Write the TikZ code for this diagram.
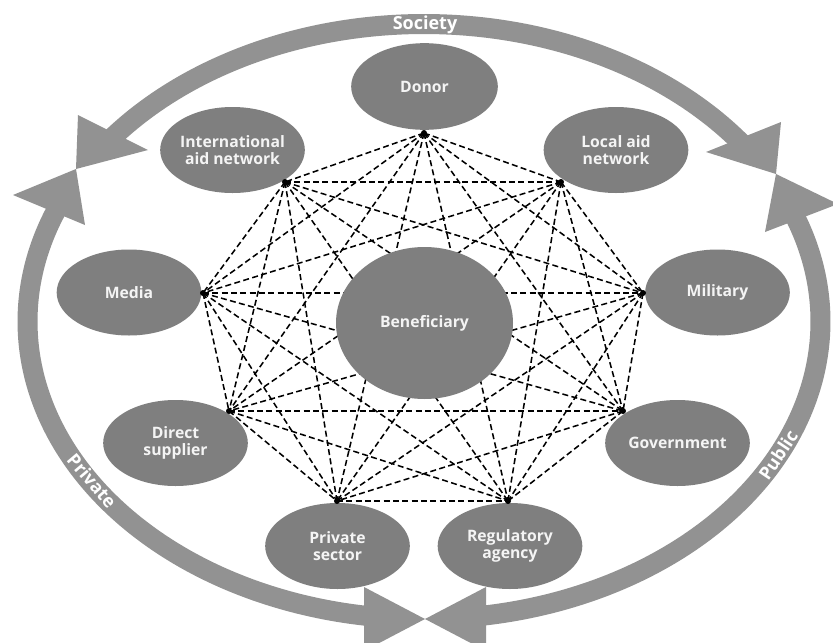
\documentclass[tikz,border=0pt]{standalone}
\usepackage{fontspec}
\setmainfont{Open Sans}
\usetikzlibrary{shapes.geometric}
\definecolor{ellcol}{RGB}{127,127,127}
\definecolor{bandcol}{RGB}{146,146,146}
\definecolor{txtcol}{RGB}{244,244,244}
\begin{document}
\begin{tikzpicture}[x=0.75pt,y=-0.75pt,
  actor/.style={ellipse, fill=ellcol, draw=none, inner sep=0pt, minimum width=108.5pt, minimum height=64.5pt},
  bigactor/.style={ellipse, fill=ellcol, draw=none, inner sep=0pt, minimum width=132.75pt, minimum height=114pt},
  lbl/.style={text=txtcol, font=\bfseries\fontsize{11.8}{13.2}\selectfont, align=center, inner sep=0pt},
  dotn/.style={circle, fill=black, inner sep=0pt, minimum size=4.5pt},
  link/.style={dash pattern=on 4.5pt off 2.5pt, line width=1.15pt, black},
  band/.style={draw=bandcol, line width=15pt},
  head/.style={fill=bandcol, draw=none},
  bandlabel/.style={text=white, font=\bfseries\fontsize{13.5}{15}\selectfont, inner sep=0pt}]
\useasboundingbox (0,0) rectangle (833,643);
\clip (0,0) rectangle (833,643);
\fill[white] (0,0) rectangle (833,643);

% outer bands
\draw[band] plot[domain=142:36, samples=90, smooth] ({424+396.5*cos(\x)},{321.5-297.5*sin(\x)});
\draw[band] plot[domain=156:263, samples=90, smooth] ({424+396.5*cos(\x)},{321.5-297.5*sin(\x)});
\draw[band] plot[domain=22:-83, samples=90, smooth] ({424+396.5*cos(\x)},{321.5-297.5*sin(\x)});

% arrow heads
\coordinate (tl) at (76,169);
\coordinate (tr) at (776,174);
\coordinate (bt) at (425,619);
\fill[head] (78,115) -- (148,150) -- (tl) -- cycle;
\fill[head] (13,195) -- (85,225) -- (tl) -- cycle;
\fill[head] (781,122) -- (706,152) -- (tr) -- cycle;
\fill[head] (838,204) -- (765,232) -- (tr) -- cycle;
\fill[head] (364,587) -- (364,651) -- (bt) -- cycle;
\fill[head] (486,587) -- (486,651) -- (bt) -- cycle;

% band labels
\node[bandlabel] (society) at (425,25) {Society};
\node[bandlabel, rotate=-49.7] (private) at (92,481) {Private};
\node[bandlabel, rotate=56] (public) at (778,455) {Public};

% actors
\node[actor, minimum width=110pt, minimum height=65pt] (donor) at (424.5,86.5) {};
\node[actor] (intl) at (232.5,150) {};
\node[actor] (local) at (616,150) {};
\node[actor] (media) at (129,292.5) {};
\node[actor] (military) at (717.5,292.5) {};
\node[actor] (direct) at (175.5,443) {};
\node[actor] (gov) at (677.5,443) {};
\node[actor] (privsec) at (337.5,546) {};
\node[actor] (reg) at (510,546) {};

% dots
\node[dotn] (d1) at (424,133) {};
\node[dotn] (d2) at (285,182) {};
\node[dotn] (d3) at (561,182) {};
\node[dotn] (d4) at (203,293) {};
\node[dotn] (d5) at (643,293) {};
\node[dotn] (d6) at (229,411) {};
\node[dotn] (d7) at (623,411) {};
\node[dotn] (d8) at (337,501) {};
\node[dotn] (d9) at (508,501) {};

\foreach \i in {1,...,9}{
  \foreach \j in {1,...,9}{
    \ifnum\i<\j \draw[link] (d\i.center) -- (d\j.center); \fi
  }
}

\node[bigactor] (benef) at (424.5,323) {};

% labels
\node[lbl] (tdonor) at (donor) {Donor};
\node[lbl] (tintl) at (intl) {International\\aid network};
\node[lbl] (tlocal) at (local) {Local aid\\network};
\node[lbl] (tmedia) at (media) {Media};
\node[lbl] (tmilitary) at (military) {Military};
\node[lbl] (tdirect) at (direct) {Direct\\supplier};
\node[lbl] (tgov) at (gov) {Government};
\node[lbl] (tprivsec) at (privsec) {Private\\sector};
\node[lbl] (treg) at (reg) {Regulatory\\agency};
\node[lbl] (tbenef) at (benef) {Beneficiary};
\end{tikzpicture}
\end{document}
